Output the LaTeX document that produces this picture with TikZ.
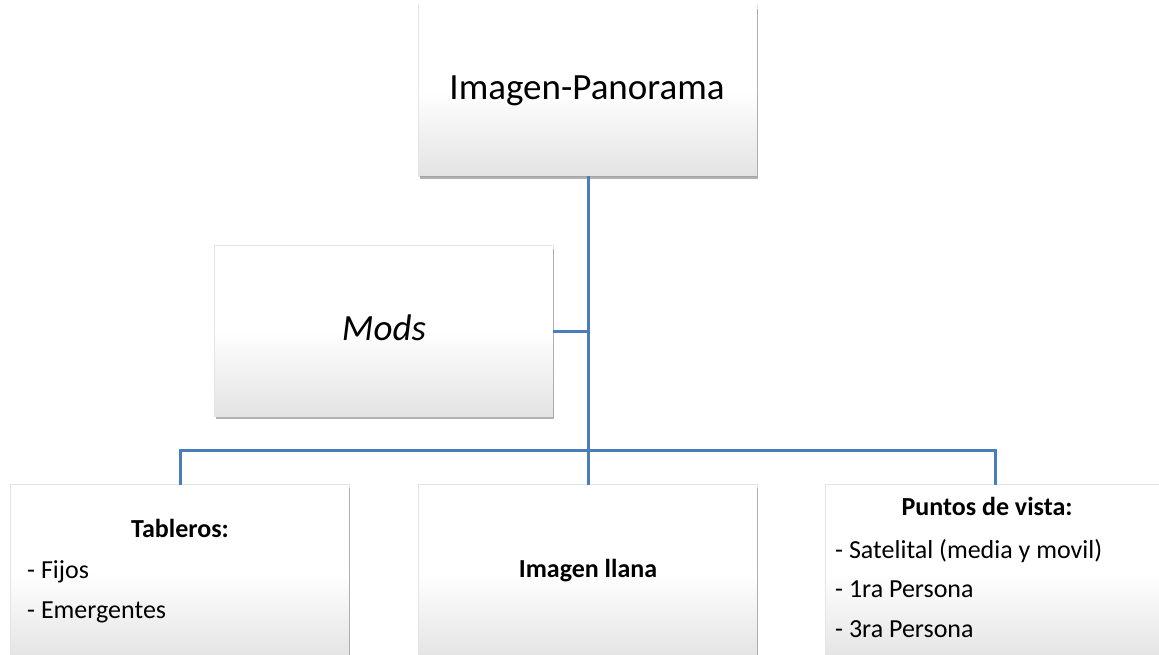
\documentclass[tikz,border=0pt]{standalone}
\usepackage{fontspec}
\setmainfont{Carlito}
\usetikzlibrary{shadows}
\definecolor{linkblue}{HTML}{4A7EBB}
\begin{document}
\begin{tikzpicture}[x=1pt,y=-1pt,
		caja/.style={rectangle,draw=none,inner sep=0pt,minimum width=338pt,minimum height=170pt,
			top color=white,bottom color=black!11,middle color=white,
			general shadow={shadow scale=1.006,fill=black!30,opacity=0.35},
			drop shadow={shadow xshift=0.5pt,shadow yshift=-3pt,fill=black!60,opacity=0.5}},
		enlace/.style={draw=linkblue,line width=3pt},
		texto/.style={inner sep=0pt,font=\fontsize{26}{31}\selectfont},
		grande/.style={inner sep=0pt,font=\fontsize{37}{44}\selectfont}]
			\useasboundingbox (0,0) rectangle (1159,655);
			\clip (0,0) rectangle (1159,655);

			\node[caja] (panorama) at (588,91) {};
			\node[caja] (mods) at (384,331) {};
			\node[caja,minimum height=176pt] (tableros) at (180,573) {};
			\node[caja,minimum height=176pt] (llana) at (588,573) {};
			\node[caja,minimum height=176pt] (vista) at (995,573) {};

			\coordinate (bus) at (588,450);
			\draw[enlace] (panorama.south) -- (llana.north);
			\draw[enlace] (mods.east) -- (mods.east -| panorama.south);
			\draw[enlace] (tableros.north) |- (bus) -| (vista.north);

			\node[grande,anchor=base] (tpanorama) at (587,100) {Imagen-Panorama};
			\node[grande,anchor=base,font=\fontsize{37}{44}\selectfont\itshape] (tmods) at (384,340) {Mods};

			\node[texto,anchor=base,font=\fontsize{26}{31}\selectfont\bfseries] (ttableros) at (180,537) {Tableros:};
			\node[texto,anchor=base west] (tfijos) at (27,578) {- Fijos};
			\node[texto,anchor=base west] (temerg) at (27,618) {- Emergentes};

			\node[texto,anchor=base,font=\fontsize{26}{31}\selectfont\bfseries] (tllana) at (588,577) {Imagen llana};

			\node[texto,anchor=base,font=\fontsize{26}{31}\selectfont\bfseries] (tvista) at (987,515) {Puntos de vista:};
			\node[texto,anchor=base west] (tsat) at (835,558) {- Satelital (media y movil)};
			\node[texto,anchor=base west] (tprim) at (835,597) {- 1ra Persona};
			\node[texto,anchor=base west] (ttercera) at (835,637) {- 3ra Persona};
		\end{tikzpicture}
\end{document}
